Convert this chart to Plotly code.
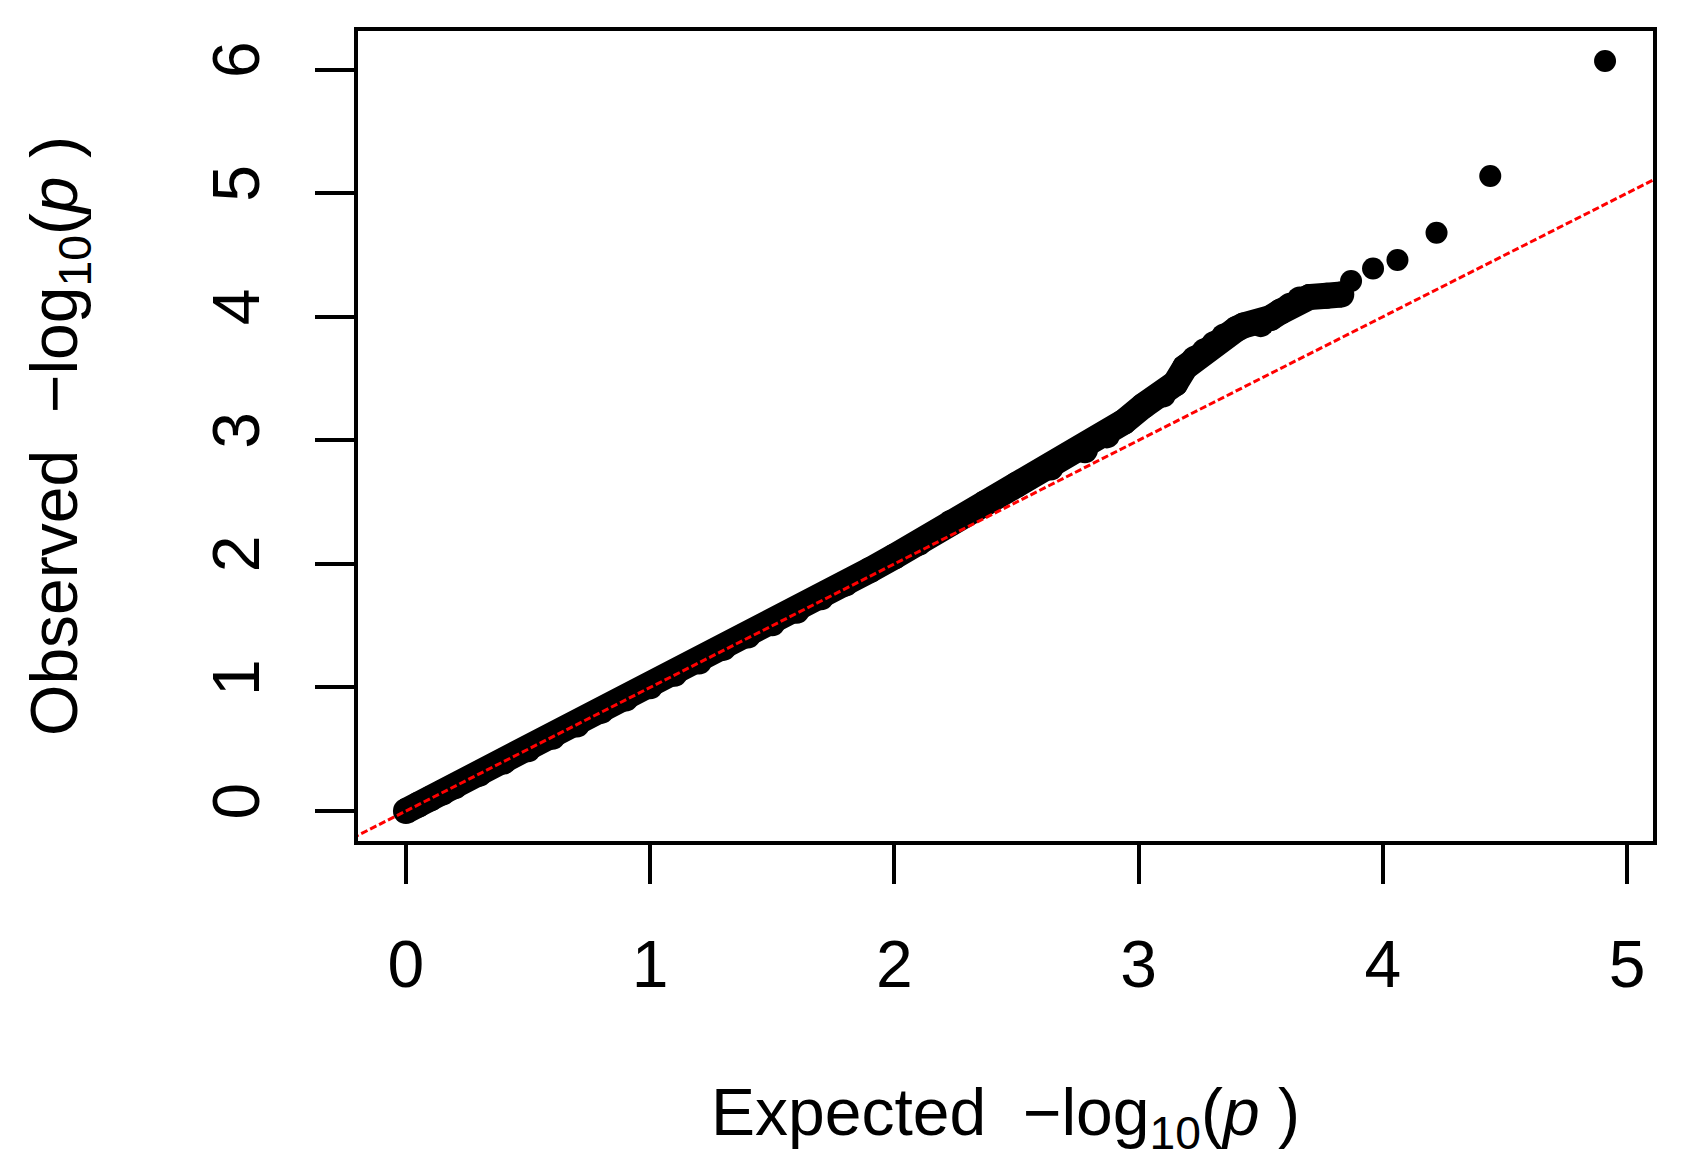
import plotly.graph_objects as go

# Expected -log10(p) and observed -log10(p)
expected = [0.00, 0.05, 0.10, 0.15, 0.20, 0.30, 0.40, 0.50, 0.60, 0.70,
            0.80, 0.90, 1.00, 1.10, 1.20, 1.30, 1.40, 1.50, 1.60, 1.70,
            1.80, 1.90, 2.00, 2.10, 2.23, 2.37, 2.50, 2.64, 2.78, 2.87,
            2.94, 3.02, 3.10, 3.15, 3.19, 3.23, 3.27, 3.31, 3.35, 3.40,
            3.43, 3.50, 3.54, 3.58, 3.62, 3.66, 3.70, 3.77, 3.83,
            3.87, 3.96, 4.06, 4.22, 4.44, 4.91]
observed = [0.00, 0.05, 0.10, 0.15, 0.20, 0.30, 0.40, 0.50, 0.60, 0.70,
            0.81, 0.91, 1.01, 1.11, 1.21, 1.32, 1.42, 1.52, 1.62, 1.73,
            1.84, 1.95, 2.06, 2.17, 2.33, 2.49, 2.64, 2.78, 2.92, 3.04,
            3.15, 3.28, 3.37, 3.46, 3.59, 3.66, 3.72, 3.78, 3.84, 3.90,
            3.93, 3.94, 3.99, 4.04, 4.09, 4.14, 4.16, 4.17, 4.18,
            4.29, 4.39, 4.46, 4.68, 5.14, 6.07]
n_dense = 49  # points that overlap into a continuous band

x_ticks = [0, 1, 2, 3, 4, 5]
y_ticks = [0, 1, 2, 3, 4, 5, 6]

# R-style axis ranges (data range extended by 4% each side)
def r_range(v):
    lo, hi = min(v), max(v)
    d = hi - lo
    return [lo - 0.04 * d, hi + 0.04 * d]

xr = r_range(expected)
yr = r_range(observed)

FONT = "Liberation Sans, Arial, sans-serif"
fig = go.Figure()

# dense band (overlapping points)
fig.add_trace(go.Scatter(
    x=expected[:n_dense], y=observed[:n_dense], mode="lines+markers",
    line=dict(color="black", width=26),
    marker=dict(color="black", size=26, line=dict(width=0)),
    hoverinfo="skip", showlegend=False))
fig.add_trace(go.Scatter(
    x=expected[n_dense:], y=observed[n_dense:], mode="markers",
    marker=dict(color="black", size=22, line=dict(width=0)),
    showlegend=False))

# y = x reference line across the whole plot region
lo = min(xr[0], yr[0]) - 1
hi = max(xr[1], yr[1]) + 1
fig.add_trace(go.Scatter(
    x=[lo, hi], y=[lo, hi], mode="lines",
    line=dict(color="red", width=3, dash="7px,3px"),
    hoverinfo="skip", showlegend=False))

axis_common = dict(
    showgrid=False, zeroline=False, showline=True, mirror=True,
    linecolor="black", linewidth=4, ticks="outside", ticklen=39,
    tickwidth=4, tickcolor="black",
    tickfont=dict(family=FONT, size=66, color="black"),
)

fig.update_layout(
    width=1683, height=1170,
    margin=dict(l=358, r=30, t=31, b=329, pad=0),
    plot_bgcolor="white", paper_bgcolor="white",
    xaxis=dict(
        range=xr, tickmode="array", tickvals=x_ticks,
        ticktext=[str(t) for t in x_ticks], ticklabelstandoff=24,
        title=dict(text="Expected&nbsp;&nbsp;−log<sub>10</sub>(<i>p</i>&nbsp;)",
                   font=dict(family=FONT, size=66, color="black"), standoff=90),
        **axis_common),
    yaxis=dict(
        range=yr, tickmode="array", tickvals=y_ticks,
        ticktext=[str(t) for t in y_ticks], tickangle=-90, ticklabelstandoff=30,
        title=dict(text="Observed&nbsp;&nbsp;−log<sub>10</sub>(<i>p</i>&nbsp;)",
                   font=dict(family=FONT, size=66, color="black"), standoff=100),
        **axis_common),
)

fig.write_html("out.html", config={"displayModeBar": False},
               post_script="document.body.style.margin='0px';")
